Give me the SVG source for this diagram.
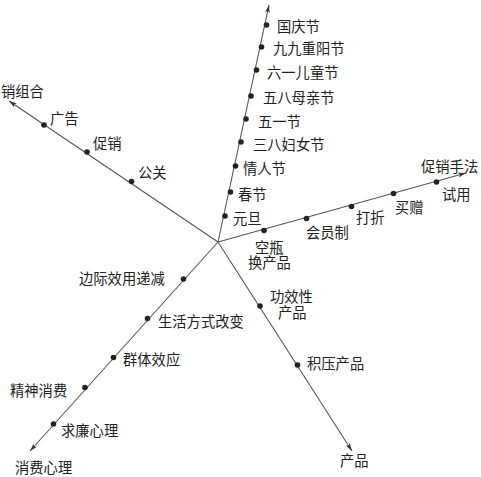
<svg xmlns="http://www.w3.org/2000/svg" width="481" height="477" viewBox="0 0 481 477">
<defs>
<marker id="ah" viewBox="0 0 10 6" refX="10" refY="3" markerWidth="8" markerHeight="5" markerUnits="userSpaceOnUse" orient="auto">
<path d="M0,0 L10,3 L0,6 L2.5,3 Z" fill="#333"/>
</marker>
</defs>
<style>
.ax{stroke:#555;stroke-width:1.1;fill:none}
.d{fill:#222}
text{font-family:"Noto Sans CJK SC","Noto Sans CJK JP",sans-serif;font-size:14.3px;fill:#222;dominant-baseline:central}
</style>
<rect width="481" height="477" fill="#fff"/>
<g id="connectors">
<line class="ax" x1="218" y1="242" x2="269" y2="5" marker-end="url(#ah)"/>
<line class="ax" x1="218" y1="242" x2="9" y2="101" marker-end="url(#ah)"/>
<line class="ax" x1="218" y1="242" x2="466" y2="173" marker-end="url(#ah)"/>
<line class="ax" x1="218" y1="242" x2="30" y2="451" marker-end="url(#ah)"/>
<line class="ax" x1="218" y1="242" x2="352" y2="451" marker-end="url(#ah)"/>
</g>
<g id="axis-festival">
<g id="n-guoqing"><circle class="d" cx="266.5" cy="25" r="2.8"/><text x="277" y="25">国庆节</text></g>
<g id="n-chongyang"><circle class="d" cx="261.5" cy="47" r="2.8"/><text x="273" y="47">九九重阳节</text></g>
<g id="n-ertong"><circle class="d" cx="256.5" cy="70" r="2.8"/><text x="267" y="71">六一儿童节</text></g>
<g id="n-muqin"><circle class="d" cx="251" cy="96" r="2.8"/><text x="263" y="96">五八母亲节</text></g>
<g id="n-wuyi"><circle class="d" cx="246" cy="119" r="2.8"/><text x="258" y="120">五一节</text></g>
<g id="n-funv"><circle class="d" cx="241" cy="142" r="2.8"/><text x="253" y="143">三八妇女节</text></g>
<g id="n-qingren"><circle class="d" cx="235.5" cy="166" r="2.8"/><text x="243" y="167">情人节</text></g>
<g id="n-chunjie"><circle class="d" cx="230.5" cy="192" r="2.8"/><text x="238" y="193">春节</text></g>
<g id="n-yuandan"><circle class="d" cx="225" cy="216" r="2.8"/><text x="233" y="217">元旦</text></g>
</g>
<g id="axis-marketing">
<g id="n-mix-label"><text x="1" y="90">销组合</text></g>
<g id="n-guanggao"><circle class="d" cx="44" cy="125" r="2.8"/><text x="50" y="117">广告</text></g>
<g id="n-cuxiao"><circle class="d" cx="87" cy="152" r="2.8"/><text x="93" y="142">促销</text></g>
<g id="n-gongguan"><circle class="d" cx="131.5" cy="181.5" r="2.8"/><text x="138" y="171">公关</text></g>
</g>
<g id="axis-promotion">
<g id="n-method-label"><text x="421" y="165">促销手法</text></g>
<g id="n-shiyong"><circle class="d" cx="436.5" cy="182" r="2.8"/><text x="442" y="193">试用</text></g>
<g id="n-maizeng"><circle class="d" cx="393.5" cy="193.5" r="2.8"/><text x="395" y="206">买赠</text></g>
<g id="n-dazhe"><circle class="d" cx="351.5" cy="206.5" r="2.8"/><text x="356" y="216">打折</text></g>
<g id="n-huiyuan"><circle class="d" cx="306.5" cy="218.5" r="2.8"/><text x="306" y="231">会员制</text></g>
<g id="n-kongping"><circle class="d" cx="264" cy="230.5" r="2.8"/><text x="255" y="246">空瓶<tspan x="248" dy="15">换产品</tspan></text></g>
</g>
<g id="axis-consumer">
<g id="n-bianji"><circle class="d" cx="183.5" cy="279" r="2.8"/><text x="79" y="277">边际效用递减</text></g>
<g id="n-shenghuo"><circle class="d" cx="147.5" cy="318.5" r="2.8"/><text x="158" y="320">生活方式改变</text></g>
<g id="n-qunti"><circle class="d" cx="113.5" cy="357.5" r="2.8"/><text x="123" y="358">群体效应</text></g>
<g id="n-jingshen"><circle class="d" cx="85" cy="387.5" r="2.8"/><text x="10" y="389">精神消费</text></g>
<g id="n-qiulian"><circle class="d" cx="53.5" cy="424" r="2.8"/><text x="61" y="429">求廉心理</text></g>
<g id="n-consumer-label"><text x="15" y="466">消费心理</text></g>
</g>
<g id="axis-product">
<g id="n-gongxiao"><circle class="d" cx="260" cy="306" r="2.8"/><text x="270" y="295">功效性<tspan x="278" dy="16">产品</tspan></text></g>
<g id="n-jiya"><circle class="d" cx="297.5" cy="365" r="2.8"/><text x="307" y="362">积压产品</text></g>
<g id="n-product-label"><text x="340" y="459">产品</text></g>
</g>
</svg>
